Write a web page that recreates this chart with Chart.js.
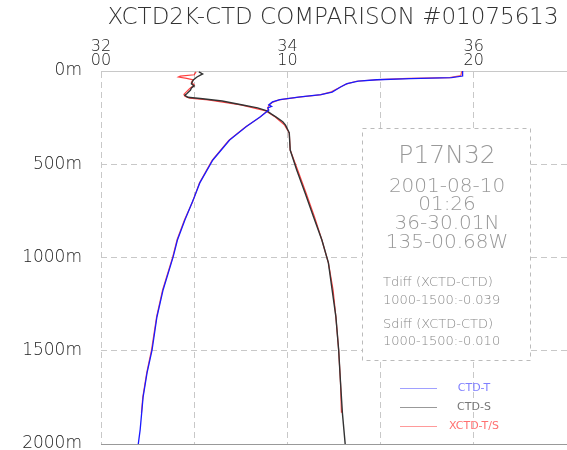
<!DOCTYPE html>
<html>
<head>
<meta charset="utf-8">
<script src="https://cdn.jsdelivr.net/npm/chart.js@4"></script>
<style>html,body{margin:0;padding:0;background:#fff}</style>
</head>
<body>
<canvas id="myChart" width="567" height="450"></canvas>
<script>
// data (depth in m, temperature in degC, salinity in psu)
const ctdTDepth = [0, 27, 36, 41, 47, 54, 68, 86, 113, 127, 139, 154, 166, 182, 190, 198, 209, 245, 298, 370, 477, 600, 691, 799, 906, 997, 1174, 1319, 1496, 1619, 1747, 1924, 2000];
const ctdT      = [19.4, 19.4, 18.8, 16.6, 14.8, 13.8, 13.2, 12.85, 12.4, 11.8, 10.7, 9.6, 9.2, 9.0, 9.15, 8.95, 9.0, 8.55, 7.8, 6.9, 6.0, 5.3, 4.95, 4.5, 4.1, 3.87, 3.33, 3.0, 2.74, 2.47, 2.26, 2.1, 2.0];

const ctdSDepth = [5, 16, 32, 48, 68, 80, 91, 103, 122, 130, 141, 149, 161, 182, 198, 214, 231, 247, 272, 290, 332, 424, 531, 654, 781, 906, 1029, 1174, 1317, 1496, 1672, 1833, 2000];
const ctdS      = [33.05, 33.09, 33.03, 32.99, 32.97, 33.0, 32.97, 32.96, 32.92, 32.9, 32.93, 33.09, 33.3, 33.52, 33.68, 33.78, 33.83, 33.88, 33.95, 33.98, 34.02, 34.03, 34.1, 34.19, 34.28, 34.37, 34.44, 34.48, 34.52, 34.55, 34.57, 34.59, 34.62];

const xctdTDepth = [2, 25, 35, 40, 46, 55, 70, 88, 112, 128, 140, 155, 168, 184, 200, 212, 250, 300, 372, 480, 600, 700, 800, 905, 1000, 1175, 1320, 1495, 1620, 1750, 1833];
const xctdT      = [19.35, 19.3, 18.7, 16.5, 14.9, 13.7, 13.15, 12.8, 12.35, 11.75, 10.6, 9.55, 9.2, 9.0, 8.95, 8.95, 8.5, 7.75, 6.85, 5.95, 5.28, 4.92, 4.47, 4.08, 3.84, 3.3, 2.98, 2.71, 2.45, 2.24, 2.17];

const xctdSDepth = [5, 20, 27, 32, 40, 48, 60, 75, 95, 115, 125, 135, 145, 155, 182, 214, 247, 290, 332, 424, 531, 654, 781, 906, 1029, 1174, 1317, 1496, 1672, 1833];
const xctdS      = [33.02, 33.0, 32.85, 32.83, 32.92, 32.99, 32.97, 33.0, 32.95, 32.91, 32.89, 32.9, 32.95, 33.15, 33.5, 33.77, 33.87, 33.97, 34.02, 34.03, 34.11, 34.2, 34.29, 34.37, 34.44, 34.49, 34.52, 34.55, 34.57, 34.58];

// top axis labels (salinity over temperature)
const salTickValues = [32, 34, 36];
const salTicks = ['32', '34', '36'];
const tempTicks = ['00', '10', '20'];

const titleText = 'XCTD2K-CTD COMPARISON #01075613';
const stationLines = ['P17N32', '2001-08-10', '01:26', '36-30.01N', '135-00.68W'];
const diffLines = ['Tdiff (XCTD-CTD)', '1000-1500:-0.039', 'Sdiff (XCTD-CTD)', '1000-1500:-0.010'];
const legendLabels = ['CTD-T', 'CTD-S', 'XCTD-T/S'];

const pts = (depth, vals) => depth.map((d, i) => ({x: vals[i], y: d}));

const FONT = 'DejaVu Sans';
const GRID = '#c8c8c8';

// station box, diff text and legend, drawn over the grid
const overlay = {
  id: 'overlay',
  beforeDatasetsDraw(chart) {
    const {ctx} = chart;
    ctx.save();
    ctx.fillStyle = '#fff';
    ctx.fillRect(362, 128, 168, 232);
    ctx.setLineDash([4, 4]);
    ctx.strokeStyle = '#bbb';
    ctx.lineWidth = 1;
    ctx.strokeRect(362.5, 128.5, 168, 232);
    ctx.setLineDash([]);

    ctx.fillStyle = '#999';
    ctx.textAlign = 'center';
    ctx.textBaseline = 'middle';
    ctx.font = '200 25px "' + FONT + '"';
    ctx.fillText(stationLines[0], 447, 156);
    ctx.font = '200 20px "' + FONT + '"';
    const ys = [187, 205, 224, 243];
    for (let i = 1; i < stationLines.length; i++) ctx.fillText(stationLines[i], 447, ys[i - 1]);

    ctx.textAlign = 'left';
    ctx.fillStyle = '#888';
    ctx.font = '200 13px "' + FONT + '"';
    const dy = [283, 301, 325, 342];
    diffLines.forEach((t, i) => ctx.fillText(t, 383, dy[i]));

    // legend
    const cols = ['#a0a0ff', '#999', '#ff9a9a'];
    const tcols = ['#8080ff', '#777', '#ff7070'];
    ctx.font = '11px "' + FONT + '"';
    ctx.textAlign = 'center';
    legendLabels.forEach((t, i) => {
      const y = 388 + i * 19;
      ctx.strokeStyle = cols[i];
      ctx.beginPath();
      ctx.moveTo(400, y + 0.5);
      ctx.lineTo(437, y + 0.5);
      ctx.stroke();
      ctx.fillStyle = tcols[i];
      ctx.fillText(t, 474, y);
    });
    ctx.restore();
  },
  afterDraw(chart) {
    const {ctx} = chart;
    ctx.save();
    ctx.fillStyle = '#333';
    ctx.font = '200 23px "' + FONT + '"';
    ctx.textAlign = 'center';
    ctx.textBaseline = 'middle';
    ctx.fillText(titleText, 333, 18);
    ctx.restore();
  }
};

const line = (label, data, axis, color, width) => ({
  label, data, xAxisID: axis, yAxisID: 'y',
  showLine: true, borderColor: color, borderWidth: width,
  pointRadius: 0, tension: 0, fill: false
});

const config = {
  type: 'scatter',
  data: {
    datasets: [
      line('CTD-T', pts(ctdTDepth, ctdT), 'xT', '#1a1aff', 1.3),
      line('CTD-S', pts(ctdSDepth, ctdS), 'xS', '#333333', 1.4),
      line('XCTD-T', pts(xctdTDepth, xctdT), 'xT', 'rgba(255,0,0,0.65)', 1.2),
      line('XCTD-S', pts(xctdSDepth, xctdS), 'xS', 'rgba(255,0,0,0.75)', 1.2)
    ]
  },
  options: {
    responsive: false,
    animation: false,
    layout: {padding: {top: 0, right: 0, bottom: 6, left: 0}},
    plugins: {legend: {display: false}, tooltip: {enabled: false}, title: {display: false}},
    scales: {
      xS: {
        type: 'linear', position: 'top', min: 32, max: 37,
        ticks: {
          stepSize: 1, autoSkip: false, maxRotation: 0, padding: 4, color: '#222',
          font: {family: FONT, size: 16, weight: 200, lineHeight: 0.82},
          callback: v => {
            const i = salTickValues.indexOf(v);
            return i < 0 ? '' : [salTicks[i], tempTicks[i]];
          }
        },
        grid: {
          drawTicks: false,
          color: c => (c.tick && c.tick.value === 37) ? 'rgba(0,0,0,0)' : GRID
        },
        border: {display: true, color: GRID, dash: [6, 4]},
        afterFit: s => { s.height = 71; s.paddingLeft = 0; s.paddingRight = 0; }
      },
      xT: {
        type: 'linear', position: 'top', min: 0, max: 25, display: false
      },
      y: {
        type: 'linear', reverse: true, min: 0, max: 2000,
        ticks: {
          stepSize: 500, padding: 19, color: '#222',
          font: {family: FONT, size: 17, weight: 200},
          callback: v => v + 'm'
        },
        grid: {
          drawTicks: false,
          color: c => {
            const v = c.tick ? c.tick.value : -1;
            if (v === 0) return 'rgba(0,0,0,0)';
            return v === 2000 ? '#999' : GRID;
          }
        },
        border: {display: false, dash: c => (c.tick && c.tick.value === 2000) ? [] : [6, 4]},
        afterFit: s => { s.width = 101; s.paddingTop = 0; s.paddingBottom = 0; }
      }
    }
  },
  plugins: [overlay]
};

const myChart = new Chart(document.getElementById('myChart'), config);
</script>
</body>
</html>
